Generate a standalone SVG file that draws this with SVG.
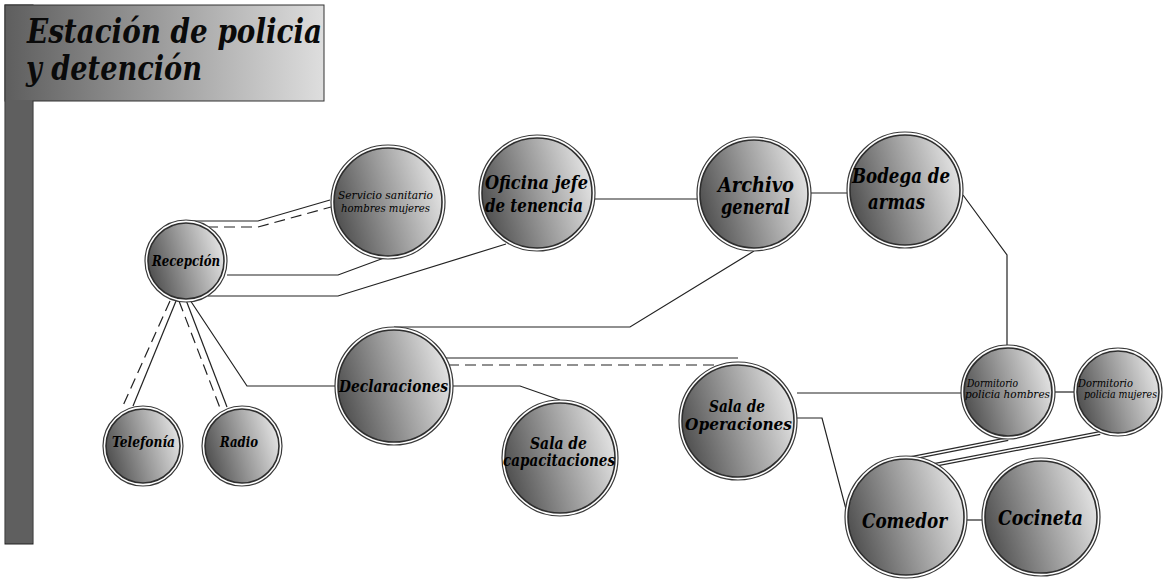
<svg xmlns="http://www.w3.org/2000/svg" width="1164" height="579" viewBox="0 0 1164 579">
<defs>
<linearGradient id="nodeFill" x1="0" y1="0.65" x2="1" y2="0.35">
<stop offset="0" stop-color="#4e4e4e"/>
<stop offset="0.5" stop-color="#9a9a9a"/>
<stop offset="1" stop-color="#e4e4e4"/>
</linearGradient>
<linearGradient id="titleFill" x1="0" y1="0" x2="1" y2="0">
<stop offset="0" stop-color="#5e5e5e"/>
<stop offset="1" stop-color="#dedede"/>
</linearGradient>
<style>
.ring{fill:#fff;stroke:#3a3a3a;stroke-width:1.2}
.core{fill:url(#nodeFill);stroke:#2e2e2e;stroke-width:1.6}
.lbl{font-weight:bold;font-style:italic;fill:#000;text-anchor:middle}
.sm{font-style:italic;fill:#000;text-anchor:middle}
.ln{fill:none;stroke:#222;stroke-width:1.2}
.dash{fill:none;stroke:#222;stroke-width:1.2;stroke-dasharray:11 6}
.dblo{fill:none;stroke:#2a2a2a;stroke-width:4}
.dbli{fill:none;stroke:#fff;stroke-width:1.4}
.title{font-weight:bold;font-style:italic;font-size:34px;fill:#0a0a0a}
</style>
</defs>
<rect width="1164" height="579" fill="#fff"/>
<g id="title" font-family="DejaVu Serif, serif">
<rect x="5" y="5" width="28" height="539" fill="#5f5f5f" stroke="#222" stroke-width="1"/>
<rect x="5" y="5" width="319" height="96" fill="url(#titleFill)" stroke="#333" stroke-width="1"/>
<rect x="5.5" y="100" width="27" height="443" fill="#5f5f5f"/>
<text class="title" x="27" y="43" textLength="295" lengthAdjust="spacingAndGlyphs">Estación de policia</text>
<text class="title" x="26" y="80" textLength="176" lengthAdjust="spacingAndGlyphs">y detención</text>
</g>
<g id="connectors">
<path class="ln" d="M183,221 H258 L330,200"/>
<path class="dash" d="M190,227 H258 L331,207"/>
<path class="ln" d="M227,275 H338 L384,258"/>
<path class="ln" d="M208,296 H338 L506,244"/>
<path class="ln" d="M595,199 H697"/>
<path class="ln" d="M811,193 H847"/>
<path class="ln" d="M963,195 L1007,255 V345"/>
<path class="ln" d="M754,251 L630,327 H394"/>
<path class="ln" d="M446,358 H738"/>
<path class="dash" d="M448,365 H722"/>
<path class="ln" d="M453,386 H520 L560,400"/>
<path class="ln" d="M190,300 L247,386 H335"/>
<path class="dash" d="M170,301 L122,408"/>
<path class="ln" d="M176,301 L133,406"/>
<path class="dash" d="M179,301 L220,408"/>
<path class="ln" d="M186,300 L227,407"/>
<path class="ln" d="M797,393 H961"/>
<path class="ln" d="M1055,392 H1074"/>
<path class="ln" d="M796,418 H822 L847,513"/>
<path class="dblo" d="M1008,439 L891,462"/>
<path class="dbli" d="M1008,439 L891,462"/>
<path class="dblo" d="M1100,433 L929,466"/>
<path class="dbli" d="M1100,433 L929,466"/>
<path class="ln" d="M967,520 H982"/>
</g>
<g font-family="DejaVu Serif, serif">
<g id="recepcion">
<circle class="ring" cx="186" cy="261" r="41"/><circle class="core" cx="186" cy="261" r="38"/>
<text class="lbl" x="186" y="266" font-size="14.5" textLength="68" lengthAdjust="spacingAndGlyphs">Recepción</text>
</g>
<g id="servicio">
<circle class="ring" cx="388" cy="202" r="57"/><circle class="core" cx="388" cy="202" r="54"/>
<text class="sm" x="385.5" y="199" font-size="11.5" textLength="95" lengthAdjust="spacingAndGlyphs">Servicio sanitario</text>
<text class="sm" x="385.5" y="212" font-size="11.5" textLength="89" lengthAdjust="spacingAndGlyphs">hombres mujeres</text>
</g>
<g id="oficina">
<circle class="ring" cx="537" cy="193" r="58"/><circle class="core" cx="537" cy="193" r="55"/>
<text class="lbl" x="536.5" y="189" font-size="18" textLength="103" lengthAdjust="spacingAndGlyphs">Oficina jefe</text>
<text class="lbl" x="534" y="212" font-size="18" textLength="98" lengthAdjust="spacingAndGlyphs">de tenencia</text>
</g>
<g id="archivo">
<circle class="ring" cx="754" cy="194" r="57"/><circle class="core" cx="754" cy="194" r="54"/>
<text class="lbl" x="756" y="192" font-size="20.5" textLength="76" lengthAdjust="spacingAndGlyphs">Archivo</text>
<text class="lbl" x="755.5" y="214" font-size="20.5" textLength="69" lengthAdjust="spacingAndGlyphs">general</text>
</g>
<g id="bodega">
<circle class="ring" cx="905" cy="190" r="58"/><circle class="core" cx="905" cy="190" r="55"/>
<text class="lbl" x="901" y="183" font-size="20" textLength="98" lengthAdjust="spacingAndGlyphs">Bodega de</text>
<text class="lbl" x="896.5" y="209" font-size="20" textLength="57" lengthAdjust="spacingAndGlyphs">armas</text>
</g>
<g id="telefonia">
<circle class="ring" cx="143" cy="446" r="40"/><circle class="core" cx="143" cy="446" r="37"/>
<text class="lbl" x="143.5" y="447" font-size="14.5" textLength="63" lengthAdjust="spacingAndGlyphs">Telefonía</text>
</g>
<g id="radio">
<circle class="ring" cx="242" cy="446" r="40"/><circle class="core" cx="242" cy="446" r="37"/>
<text class="lbl" x="239" y="447" font-size="14.5" textLength="38" lengthAdjust="spacingAndGlyphs">Radio</text>
</g>
<g id="declaraciones">
<circle class="ring" cx="394" cy="386" r="59"/><circle class="core" cx="394" cy="386" r="56"/>
<text class="lbl" x="393.5" y="392" font-size="17" textLength="109" lengthAdjust="spacingAndGlyphs">Declaraciones</text>
</g>
<g id="capacitaciones">
<circle class="ring" cx="560" cy="458" r="58"/><circle class="core" cx="560" cy="458" r="55"/>
<text class="lbl" x="558.5" y="449" font-size="16" textLength="57" lengthAdjust="spacingAndGlyphs">Sala de</text>
<text class="lbl" x="559" y="466" font-size="16" textLength="112" lengthAdjust="spacingAndGlyphs">capacitaciones</text>
</g>
<g id="operaciones">
<circle class="ring" cx="738" cy="421" r="59"/><circle class="core" cx="738" cy="421" r="56"/>
<text class="lbl" x="737" y="412" font-size="17" textLength="56" lengthAdjust="spacingAndGlyphs">Sala de</text>
<text class="lbl" x="738.5" y="430" font-size="17" textLength="107" lengthAdjust="spacingAndGlyphs">Operaciones</text>
</g>
<g id="dorm-hombres">
<circle class="ring" cx="1008" cy="392" r="47"/><circle class="core" cx="1008" cy="392" r="44"/>
<text class="sm" x="992.5" y="387" font-size="10.5" textLength="51" lengthAdjust="spacingAndGlyphs">Dormitorio</text>
<text class="sm" x="1007.5" y="398" font-size="10.5" textLength="85" lengthAdjust="spacingAndGlyphs">policia hombres</text>
</g>
<g id="dorm-mujeres">
<circle class="ring" cx="1118" cy="392" r="44"/><circle class="core" cx="1118" cy="392" r="41"/>
<text class="sm" x="1105.5" y="387" font-size="10.5" textLength="55" lengthAdjust="spacingAndGlyphs">Dormitorio</text>
<text class="sm" x="1120.5" y="398" font-size="10.5" textLength="73" lengthAdjust="spacingAndGlyphs">policia mujeres</text>
</g>
<g id="comedor">
<circle class="ring" cx="906" cy="517" r="61"/><circle class="core" cx="906" cy="517" r="58"/>
<text class="lbl" x="904.5" y="528" font-size="21" textLength="85" lengthAdjust="spacingAndGlyphs">Comedor</text>
</g>
<g id="cocineta">
<circle class="ring" cx="1041" cy="517" r="59"/><circle class="core" cx="1041" cy="517" r="56"/>
<text class="lbl" x="1040.5" y="525" font-size="21" textLength="85" lengthAdjust="spacingAndGlyphs">Cocineta</text>
</g>
</g>
</svg>
